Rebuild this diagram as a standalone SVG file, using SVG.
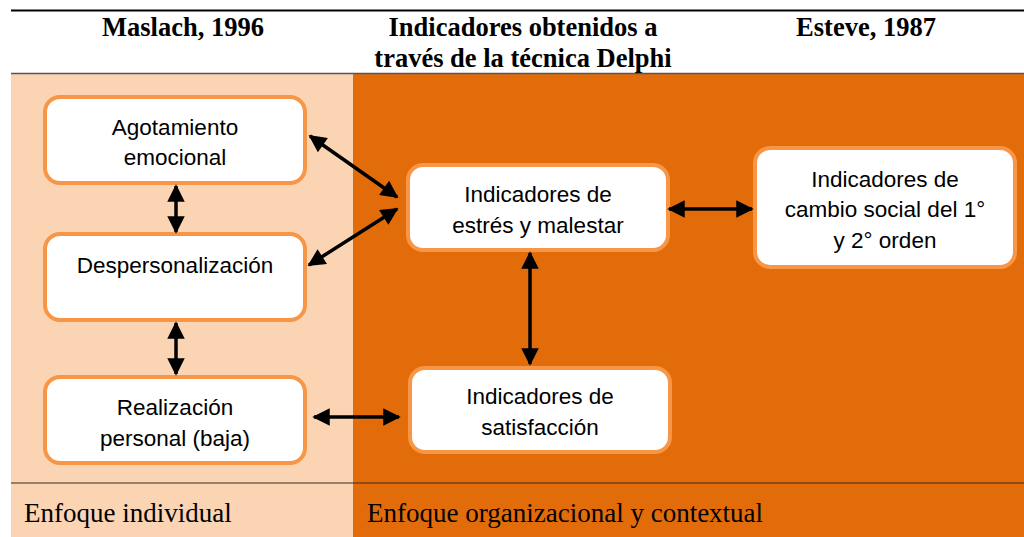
<svg xmlns="http://www.w3.org/2000/svg" width="1024" height="537" viewBox="0 0 1024 537">
<defs>
<style>
.hdr{font-family:"Liberation Serif","Times New Roman",serif;font-weight:bold;font-size:26.5px;fill:#000;text-anchor:middle}
.ftr{font-family:"Liberation Serif","Times New Roman",serif;font-size:27px;fill:#000}
.box{fill:#fff;stroke:#F79646;stroke-width:4}
.lbl{font-family:"Liberation Sans",Arial,sans-serif;font-size:22.5px;fill:#000;text-anchor:middle}
.con{stroke:#000;stroke-width:3.5;fill:none;marker-start:url(#ah);marker-end:url(#ah)}
</style>
<marker id="ah" viewBox="0 0 10 10" refX="9" refY="5" markerWidth="5.5" markerHeight="5" orient="auto-start-reverse" markerUnits="strokeWidth">
<path d="M0,0 L10,5 L0,10 z" fill="#000"/>
</marker>
</defs>
<rect x="0" y="0" width="1024" height="537" fill="#fff"/>
<rect x="11" y="74" width="342" height="463" fill="#FBD4B4"/>
<rect x="353" y="74" width="671" height="463" fill="#E36C0A"/>
<line x1="11" y1="10.5" x2="1024" y2="10.5" stroke="#000" stroke-width="1.8"/>
<line x1="11" y1="73.5" x2="1024" y2="73.5" stroke="#555" stroke-width="1.5"/>
<line x1="11" y1="483" x2="1024" y2="483" stroke="#3a2a20" stroke-width="1.2"/>
<text class="hdr" x="183" y="36">Maslach, 1996</text>
<text class="hdr" x="523" y="36">Indicadores obtenidos a</text>
<text class="hdr" x="523" y="67">través de la técnica Delphi</text>
<text class="hdr" x="866" y="36">Esteve, 1987</text>
<text class="ftr" x="24" y="522">Enfoque individual</text>
<text class="ftr" x="367" y="522">Enfoque organizacional y contextual</text>
<g id="agotamiento">
<rect class="box" x="45" y="97" width="260" height="86" rx="15"/>
<text class="lbl" x="175" y="135">Agotamiento</text>
<text class="lbl" x="175" y="165">emocional</text>
</g>
<g id="despersonalizacion">
<rect class="box" x="45" y="234" width="260" height="86" rx="15"/>
<text class="lbl" x="175" y="273">Despersonalización</text>
</g>
<g id="realizacion">
<rect class="box" x="45" y="377" width="260" height="86" rx="15"/>
<text class="lbl" x="175" y="415">Realización</text>
<text class="lbl" x="175" y="446">personal (baja)</text>
</g>
<g id="estres">
<rect class="box" x="408" y="165" width="260" height="85" rx="15"/>
<text class="lbl" x="538" y="202">Indicadores de</text>
<text class="lbl" x="538" y="233">estrés y malestar</text>
</g>
<g id="satisfaccion">
<rect class="box" x="410" y="368" width="260" height="84" rx="15"/>
<text class="lbl" x="540" y="404">Indicadores de</text>
<text class="lbl" x="540" y="435">satisfacción</text>
</g>
<g id="cambio">
<rect class="box" x="755" y="148" width="260" height="119" rx="15"/>
<text class="lbl" x="885" y="187">Indicadores de</text>
<text class="lbl" x="885" y="217">cambio social del 1°</text>
<text class="lbl" x="885" y="248">y 2° orden</text>
</g>
<g id="connectors">
<line class="con" x1="176" y1="186" x2="176" y2="232"/>
<line class="con" x1="176" y1="323" x2="176" y2="374"/>
<line class="con" x1="310" y1="136" x2="397" y2="197"/>
<line class="con" x1="309" y1="265" x2="397" y2="209"/>
<line class="con" x1="314" y1="417" x2="399" y2="417"/>
<line class="con" x1="530" y1="253" x2="530" y2="364"/>
<line class="con" x1="669" y1="209" x2="752" y2="209"/>
</g>
</svg>
